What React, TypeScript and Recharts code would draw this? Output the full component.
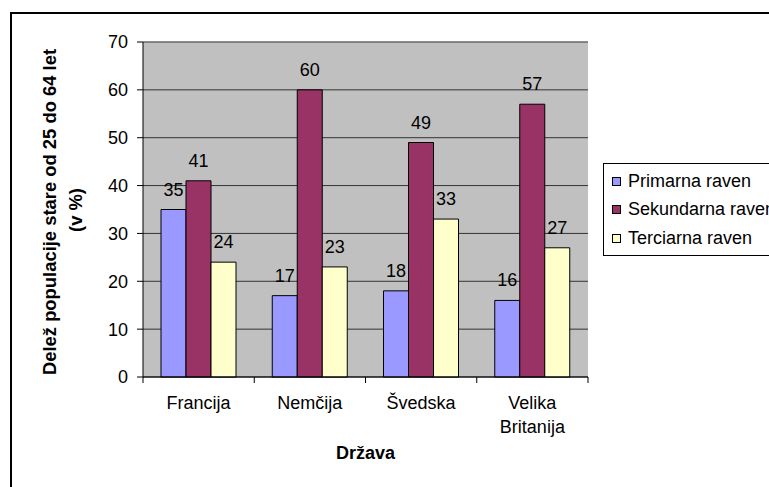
import React from "react";
import { BarChart, Bar, XAxis, YAxis, CartesianGrid, Legend, LabelList, ReferenceLine } from "recharts";

const categories = ["Francija", "Nemčija", "Švedska", "Velika Britanija"];
const primarna = [35, 17, 18, 16];
const sekundarna = [41, 60, 49, 57];
const terciarna = [24, 23, 33, 27];
const yTicks = [0, 10, 20, 30, 40, 50, 60, 70];

const series = [
  { key: "primarna", name: "Primarna raven", color: "#9999FF" },
  { key: "sekundarna", name: "Sekundarna raven", color: "#993366" },
  { key: "terciarna", name: "Terciarna raven", color: "#FFFFCC" },
];

const data = categories.map((c, i) => ({
  name: c,
  primarna: primarna[i],
  sekundarna: sekundarna[i],
  terciarna: terciarna[i],
}));

const FONT = "'Liberation Sans', Arial, sans-serif";
const FS = 18;

const XTick = (props: any) => {
  const { x, y, payload, index } = props;
  const half = payload.offset ?? 55.75;
  const axisY = y - 19;
  const lines = String(payload.value).split(" ");
  return (
    <g>
      <line x1={x - half} x2={x - half} y1={axisY} y2={axisY + 6} stroke="#000" />
      {index === categories.length - 1 && (
        <line x1={x + half} x2={x + half} y1={axisY} y2={axisY + 6} stroke="#000" />
      )}
      {lines.map((l, i) => (
        <text
          key={i}
          x={x}
          y={y + 13 + i * 24}
          textAnchor="middle"
          fontSize={FS}
          fontFamily={FONT}
          fill="#000"
        >
          {l}
        </text>
      ))}
    </g>
  );
};

const YTitle = () => (
  <g fontFamily={FONT} fontWeight="bold" fontSize={18.4} fill="#000">
    <text x={49} y={212} transform="rotate(-90 49 212)" textAnchor="middle" dominantBaseline="central">
      Delež populacije stare od 25 do 64 let
    </text>
    <text x={75} y={210} transform="rotate(-90 75 210)" textAnchor="middle" dominantBaseline="central">
      (v %)
    </text>
  </g>
);

const renderLegend = () => (
  <div
    style={{
      border: "1px solid #000",
      background: "#fff",
      width: 180,
      height: 88,
      boxSizing: "content-box",
      fontFamily: FONT,
      fontSize: FS,
      color: "#000",
      paddingTop: 3,
    }}
  >
    {series.map((s) => (
      <div key={s.key} style={{ display: "flex", alignItems: "center", height: 28.5, paddingLeft: 8 }}>
        <span
          style={{
            display: "inline-block",
            width: 7,
            height: 7,
            background: s.color,
            border: "1px solid #000",
            marginRight: 7,
          }}
        />
        <span style={{ whiteSpace: "nowrap" }}>{s.name}</span>
      </div>
    ))}
  </div>
);

export default function App() {
  return (
    <div
      style={{
        position: "absolute",
        left: 0,
        top: 0,
        width: 769,
        height: 487,
        overflow: "hidden",
        background: "#fff",
      }}
    >
      <div
        style={{
          position: "absolute",
          left: 10,
          top: 12,
          width: 800,
          height: 500,
          borderLeft: "2px solid #000",
          borderTop: "2px solid #000",
        }}
      />
      <BarChart
        width={769}
        height={487}
        data={data}
        margin={{ top: 42, right: 181, bottom: 0, left: 0 }}
        barCategoryGap={18}
        barGap={0}
        style={{ position: "absolute", left: 0, top: 0 }}
      >
        <CartesianGrid fill="#C0C0C0" stroke="#333" vertical={false} />
        <ReferenceLine y={70} stroke="#808080" />
        <XAxis
          dataKey="name"
          height={110}
          axisLine={{ stroke: "#000" }}
          tickLine={false}
          tickSize={6}
          tickMargin={13}
          interval={0}
          tick={<XTick />}
          label={{
            value: "Država",
            position: "insideBottom",
            offset: 28,
            fill: "#000",
            fontSize: FS,
            fontWeight: "bold",
            fontFamily: FONT,
          }}
        />
        <YAxis
          width={143}
          domain={[0, 70]}
          ticks={yTicks}
          interval={0}
          axisLine={{ stroke: "#000" }}
          tickLine={{ stroke: "#000" }}
          tickSize={6}
          tickMargin={9}
          tick={{ fill: "#000", fontSize: FS, fontFamily: FONT }}
          label={{ content: () => <YTitle /> }}
        />
        <YAxis
          yAxisId="right"
          orientation="right"
          width={0}
          domain={[0, 70]}
          tick={false}
          tickLine={false}
          axisLine={{ stroke: "#808080" }}
        />
        <Legend
          layout="vertical"
          align="center"
          verticalAlign="middle"
          wrapperStyle={{ position: "absolute", left: 603, top: 163, width: 182 }}
          content={renderLegend}
        />
        {series.map((s) => (
          <Bar
            key={s.key}
            dataKey={s.key}
            name={s.name}
            fill={s.color}
            stroke="#000"
            strokeWidth={1}
            isAnimationActive={false}
          >
            <LabelList
              dataKey={s.key}
              position="top"
              offset={14}
              fill="#000"
              fontSize={FS}
              fontFamily={FONT}
            />
          </Bar>
        ))}
      </BarChart>
    </div>
  );
}
